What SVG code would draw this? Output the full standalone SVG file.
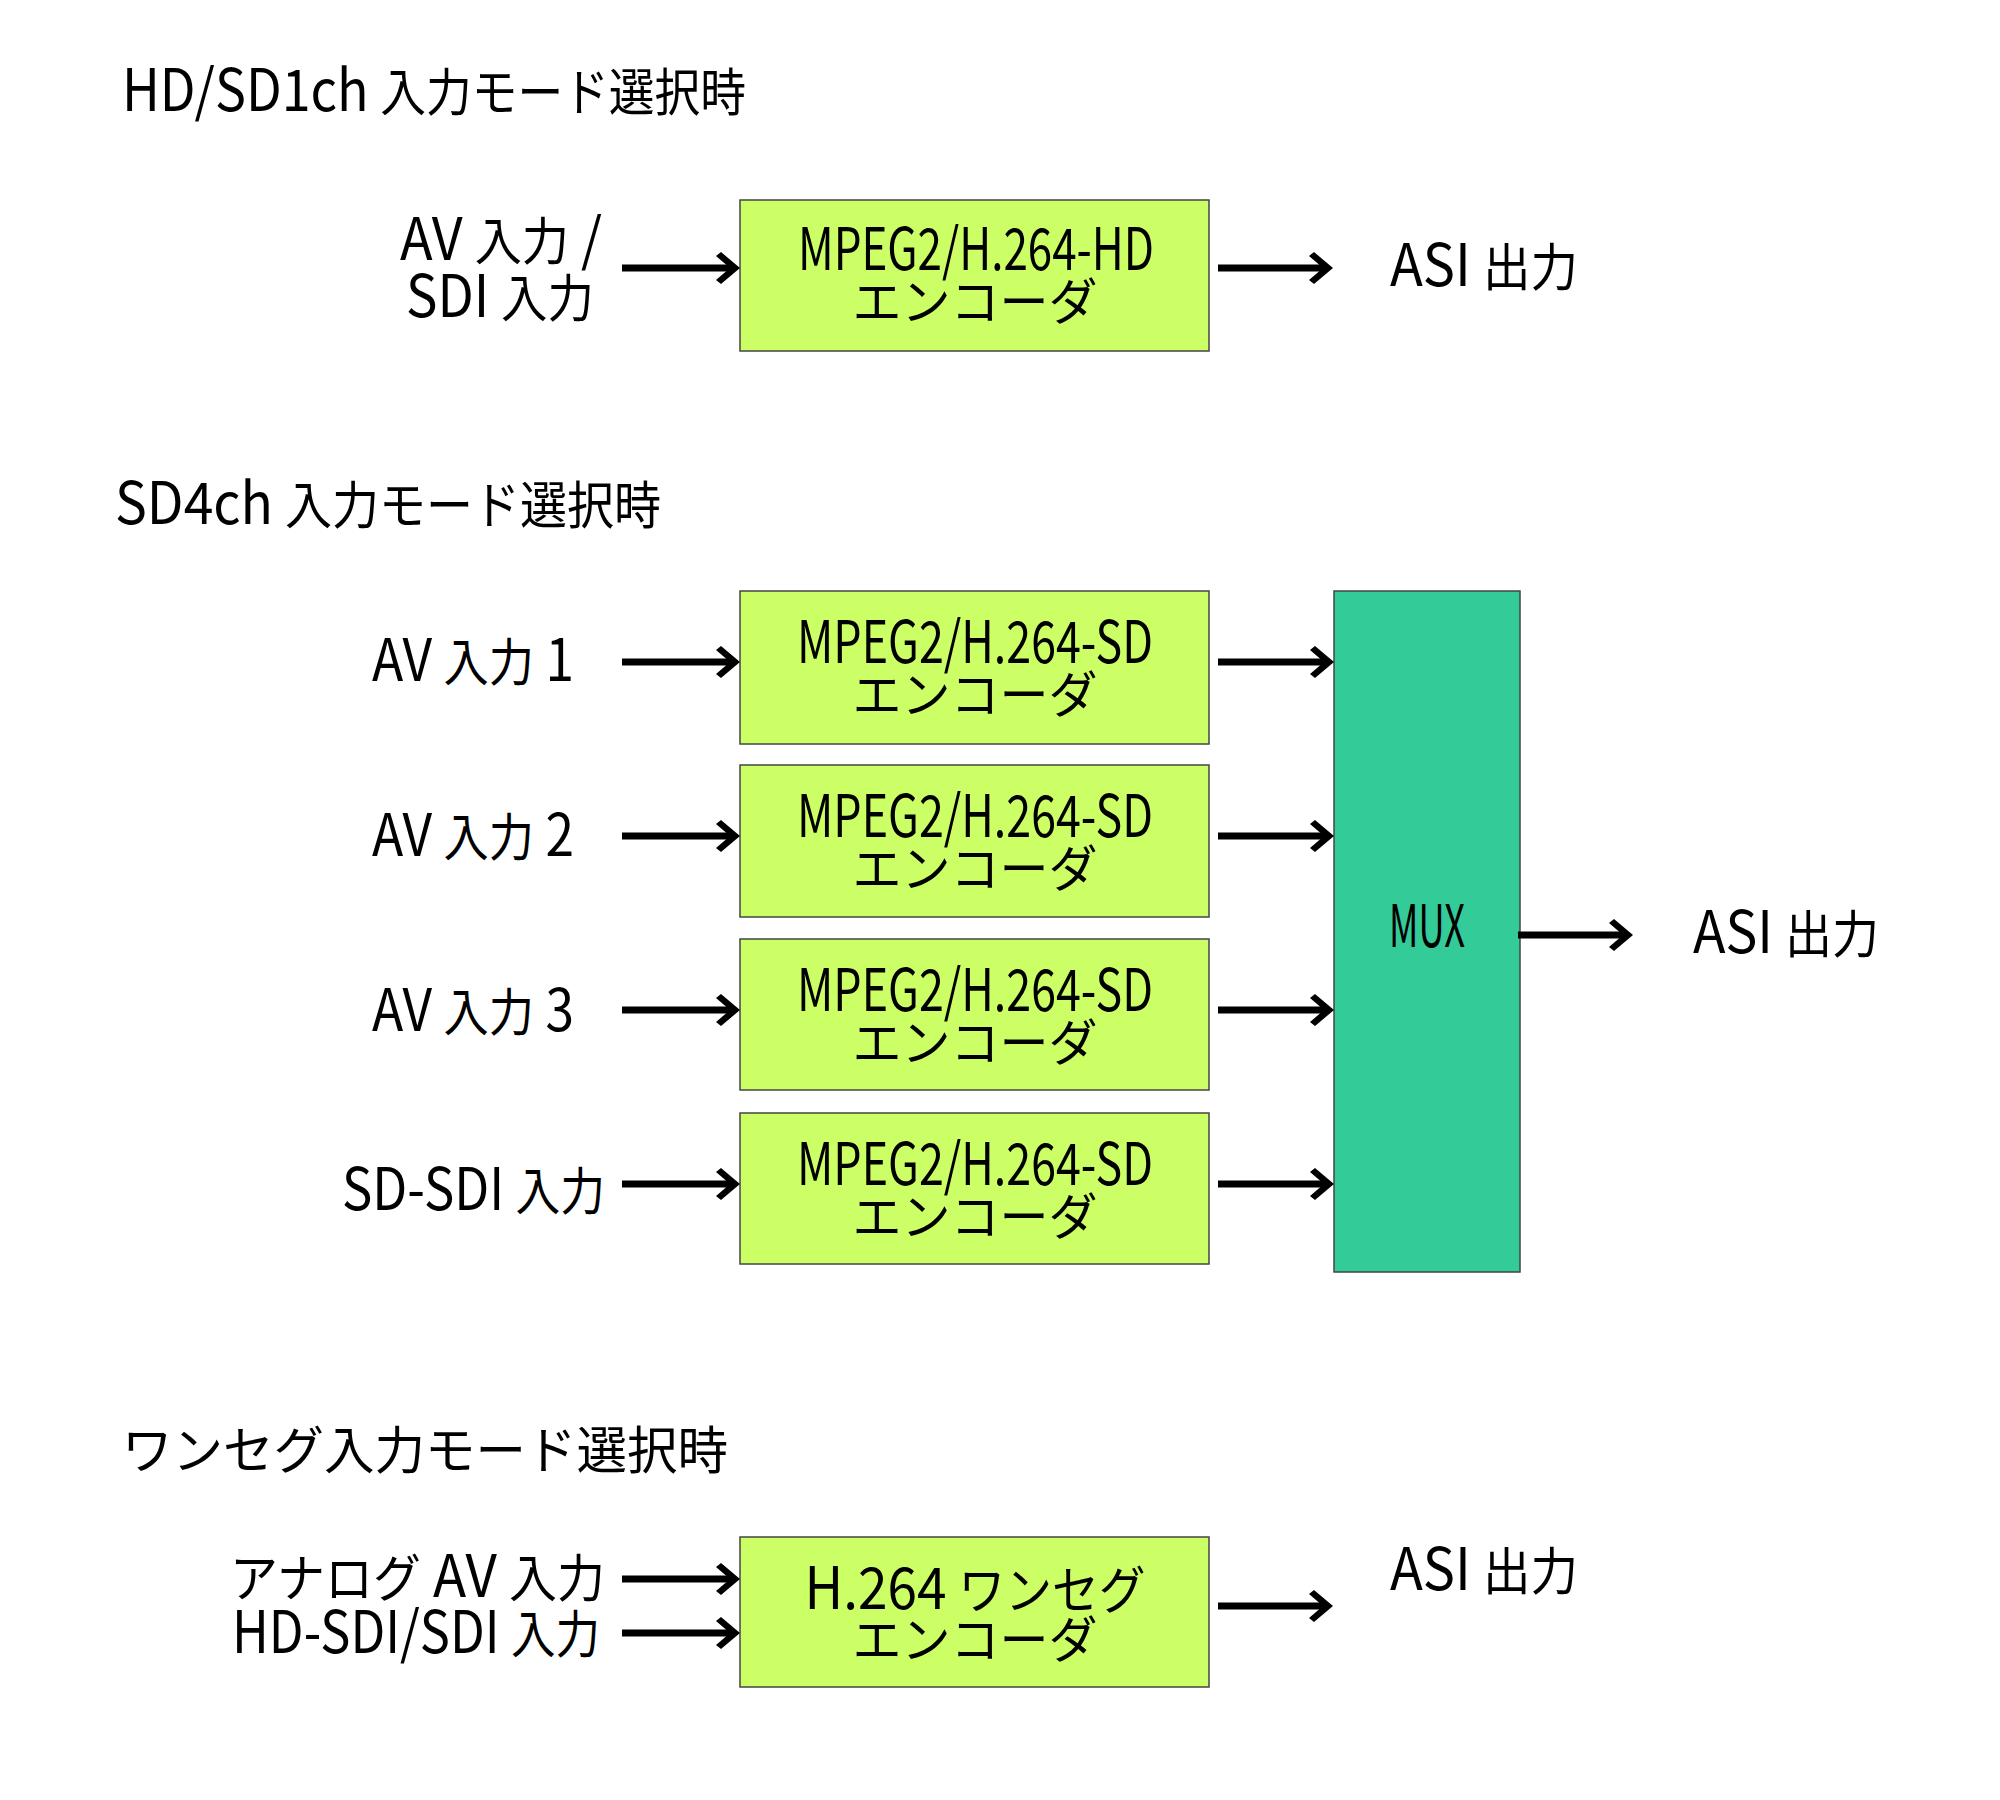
<svg xmlns="http://www.w3.org/2000/svg" width="2000" height="1800" viewBox="0 0 2000 1800">
<style>
.t{font-family:"Noto Sans CJK JP","Liberation Sans",sans-serif;font-size:51px;fill:#000}
.L{font-size:58px}
.k{font-size:50px}
.m{text-anchor:middle}
.enc{fill:#CCFF66;stroke:#444;stroke-width:1.5}
.mux{fill:#33CC99;stroke:#444;stroke-width:1.5}
.c{stroke:#000;stroke-width:7;fill:none;marker-end:url(#ah)}
</style>
<defs>
<marker id="ah" markerUnits="userSpaceOnUse" viewBox="0 0 24 32" refX="14" refY="16" markerWidth="24" markerHeight="32" orient="auto">
<path d="M0,4 L5,0 L24,16 L5,32 L0,28 L14,16 Z" fill="#000"/>
</marker>
</defs>
<rect width="2000" height="1800" fill="#fff"/>

<g id="titles">
<text class="t" x="122" y="111" textLength="624" lengthAdjust="spacingAndGlyphs"><tspan class="L">HD/SD1ch </tspan>入力モード選択時</text>
<text class="t" x="115" y="524" textLength="546" lengthAdjust="spacingAndGlyphs"><tspan class="L">SD4ch </tspan>入力モード選択時</text>
<text class="t" x="122" y="1469" textLength="606" lengthAdjust="spacingAndGlyphs">ワンセグ入力モード選択時</text>
</g>

<g id="hd-inputs">
<text class="t" x="400" y="260" textLength="202" lengthAdjust="spacingAndGlyphs"><tspan class="L">AV </tspan>入力<tspan class="L"> /</tspan></text>
<text class="t" x="406" y="317" textLength="188" lengthAdjust="spacingAndGlyphs"><tspan class="L">SDI </tspan>入力</text>
</g>
<g id="hd-encoder">
<rect class="enc" x="740" y="200" width="469" height="151"/>
<text class="t L m" x="976" y="270" textLength="356" lengthAdjust="spacingAndGlyphs">MPEG2/H.264-HD</text>
<text class="t k m" x="975" y="320" textLength="245" lengthAdjust="spacingAndGlyphs">エンコーダ</text>
</g>
<g id="hd-output">
<text class="t" x="1390" y="286" textLength="188" lengthAdjust="spacingAndGlyphs"><tspan class="L">ASI </tspan>出力</text>
</g>

<g id="sd-inputs">
<text class="t" x="372" y="681" textLength="202" lengthAdjust="spacingAndGlyphs"><tspan class="L">AV </tspan>入力<tspan class="L"> 1</tspan></text>
<text class="t" x="372" y="856" textLength="202" lengthAdjust="spacingAndGlyphs"><tspan class="L">AV </tspan>入力<tspan class="L"> 2</tspan></text>
<text class="t" x="372" y="1031" textLength="202" lengthAdjust="spacingAndGlyphs"><tspan class="L">AV </tspan>入力<tspan class="L"> 3</tspan></text>
<text class="t" x="342" y="1210" textLength="263" lengthAdjust="spacingAndGlyphs"><tspan class="L">SD-SDI </tspan>入力</text>
</g>
<g id="sd-encoder-1">
<rect class="enc" x="740" y="591" width="469" height="153"/>
<text class="t L m" x="975" y="663" textLength="356" lengthAdjust="spacingAndGlyphs">MPEG2/H.264-SD</text>
<text class="t k m" x="975" y="713" textLength="245" lengthAdjust="spacingAndGlyphs">エンコーダ</text>
</g>
<g id="sd-encoder-2">
<rect class="enc" x="740" y="765" width="469" height="152"/>
<text class="t L m" x="975" y="837" textLength="356" lengthAdjust="spacingAndGlyphs">MPEG2/H.264-SD</text>
<text class="t k m" x="975" y="887" textLength="245" lengthAdjust="spacingAndGlyphs">エンコーダ</text>
</g>
<g id="sd-encoder-3">
<rect class="enc" x="740" y="939" width="469" height="151"/>
<text class="t L m" x="975" y="1011" textLength="356" lengthAdjust="spacingAndGlyphs">MPEG2/H.264-SD</text>
<text class="t k m" x="975" y="1061" textLength="245" lengthAdjust="spacingAndGlyphs">エンコーダ</text>
</g>
<g id="sd-encoder-4">
<rect class="enc" x="740" y="1113" width="469" height="151"/>
<text class="t L m" x="975" y="1185" textLength="356" lengthAdjust="spacingAndGlyphs">MPEG2/H.264-SD</text>
<text class="t k m" x="975" y="1235" textLength="245" lengthAdjust="spacingAndGlyphs">エンコーダ</text>
</g>
<g id="mux">
<rect class="mux" x="1334" y="591" width="186" height="681"/>
<text class="t L m" x="1427" y="947" textLength="76" lengthAdjust="spacingAndGlyphs">MUX</text>
</g>
<g id="sd-output">
<text class="t" x="1693" y="953" textLength="186" lengthAdjust="spacingAndGlyphs"><tspan class="L">ASI </tspan>出力</text>
</g>

<g id="oneseg-inputs">
<text class="t" x="230" y="1597" textLength="375" lengthAdjust="spacingAndGlyphs">アナログ<tspan class="L"> AV </tspan>入力</text>
<text class="t" x="232" y="1653" textLength="368" lengthAdjust="spacingAndGlyphs"><tspan class="L">HD-SDI/SDI </tspan>入力</text>
</g>
<g id="oneseg-encoder">
<rect class="enc" x="740" y="1537" width="469" height="150"/>
<text class="t m" x="975" y="1609" textLength="341" lengthAdjust="spacingAndGlyphs"><tspan class="L">H.264 </tspan>ワンセグ</text>
<text class="t k m" x="975" y="1658" textLength="245" lengthAdjust="spacingAndGlyphs">エンコーダ</text>
</g>
<g id="oneseg-output">
<text class="t" x="1390" y="1590" textLength="188" lengthAdjust="spacingAndGlyphs"><tspan class="L">ASI </tspan>出力</text>
</g>

<g id="connectors">
<path class="c" d="M622,268 H730"/>
<path class="c" d="M1218,268 H1323"/>
<path class="c" d="M622,662 H730"/>
<path class="c" d="M622,836 H730"/>
<path class="c" d="M622,1010 H730"/>
<path class="c" d="M622,1184 H730"/>
<path class="c" d="M1218,662 H1324"/>
<path class="c" d="M1218,836 H1324"/>
<path class="c" d="M1218,1010 H1324"/>
<path class="c" d="M1218,1184 H1324"/>
<path class="c" d="M1518,935 H1623"/>
<path class="c" d="M622,1579 H730"/>
<path class="c" d="M622,1633 H730"/>
<path class="c" d="M1218,1606 H1323"/>
</g>
</svg>
